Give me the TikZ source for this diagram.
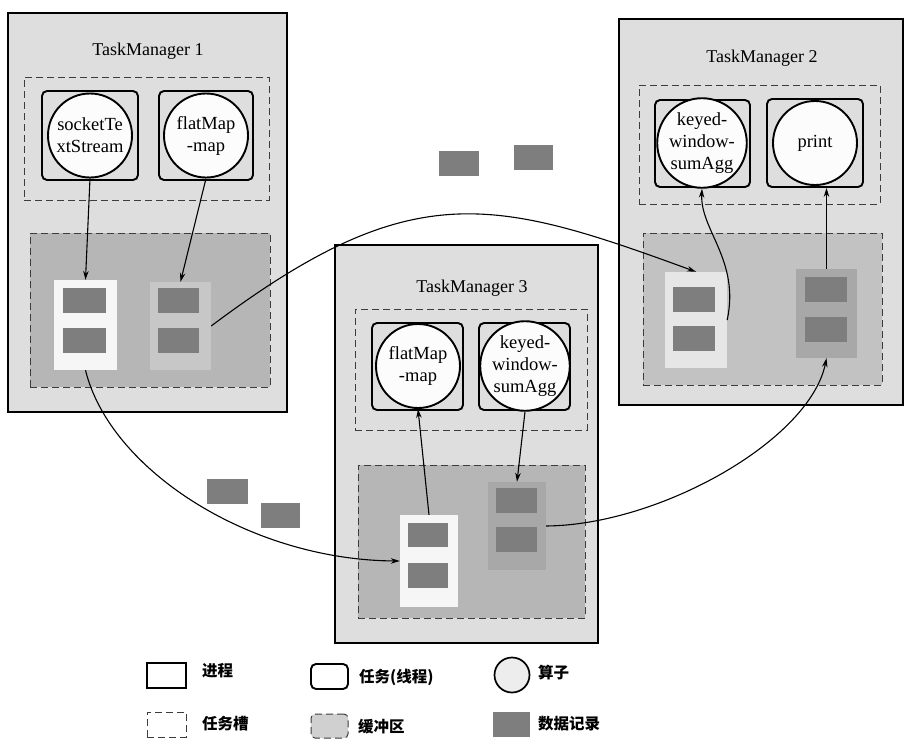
\documentclass[tikz,border=0pt]{standalone}
\usepackage{fontspec}
\setmainfont{Liberation Serif}
\newfontfamily\cjk{Noto Sans CJK SC}
\usetikzlibrary{arrows.meta,fit}

\definecolor{tmfill}{RGB}{222,222,222}
\definecolor{buffill}{RGB}{182,182,182}
\definecolor{subfill}{RGB}{168,168,168}
\definecolor{procfill}{RGB}{246,246,246}
\definecolor{recfill}{RGB}{126,126,126}
\definecolor{dashcol}{RGB}{60,60,60}
\definecolor{lgbuf}{RGB}{208,208,208}
\definecolor{opfill}{RGB}{252,252,252}

\tikzset{
  tmbox/.style={draw=black, line width=2pt, fill=tmfill, inner sep=0pt},
  slotbox/.style={draw=dashcol, dash pattern=on 7pt off 4pt, line width=1pt, inner sep=0pt},
  bufbox/.style={slotbox, fill=buffill},
  taskbox/.style={draw=black, line width=1.9pt, rounded corners=5pt, inner sep=0pt},
  opnode/.style={circle, draw=black, line width=1.9pt, fill=opfill, minimum size=84pt, inner sep=0pt, align=center, font=\fontsize{18.5}{22}\selectfont},
  procbox/.style={fill=procfill, inner sep=0pt},
  subbox/.style={fill=subfill, inner sep=0pt},
  rec/.style={fill=recfill, inner sep=0pt},
  tmtitle/.style={anchor=base, font=\fontsize{18}{22}\selectfont},
  conn/.style={line width=1.1pt, -{Stealth[length=9pt,width=5.5pt]}},
  lgtext/.style={anchor=west, inner sep=0pt, font=\cjk\bfseries\fontsize{15.5}{18}\selectfont},
}

\begin{document}
\begin{tikzpicture}[x=1pt, y=-1pt]
\useasboundingbox (0,0) rectangle (911,747);

% ---------- TaskManager 1 ----------
\node[tmbox, fit={(8,13)(287,412)}] (tm1) {};
\node[tmtitle] (tm1t) at (148,55) {TaskManager 1};
\node[slotbox, fit={(24,77)(269,200)}] (slot1) {};
\node[taskbox, fit={(42,91)(138,180)}] (task1a) {};
\node[taskbox, fit={(159,91)(253,180)}] (task1b) {};
\node[opnode] (c1a) at (90,135.5) {socketTe\\xtStream};
\node[opnode] (c1b) at (206,135.5) {flatMap\\-map};
\node[bufbox, fit={(30,233)(270,387)}] (buf1) {};
\node[procbox, fit={(54,280)(117,370)}] (proc1) {};
\node[rec, fit={(63,288)(106,313)}] (r1a) {};
\node[rec, fit={(63,328)(106,353)}] (r1b) {};
\node[subbox, fill=subfill!60!procfill, fit={(150,282)(211,370)}] (sub1) {};
\node[rec, fit={(158,288)(199,313)}] (r1c) {};
\node[rec, fit={(158,328)(199,353)}] (r1d) {};

% ---------- TaskManager 2 ----------
\node[tmbox, fit={(619,19)(903,405)}] (tm2) {};
\node[tmtitle] (tm2t) at (762,62) {TaskManager 2};
\node[slotbox, fit={(639,85)(880,204)}] (slot2) {};
\node[taskbox, fit={(655,100)(750,187)}] (task2a) {};
\node[taskbox, fit={(767,99)(863,187)}] (task2b) {};
\node[opnode] (c2a) at (702,143) {keyed-\\window-\\sumAgg};
\node[opnode] (c2b) at (815,143) {print};
\node[bufbox, fill=buffill!70!tmfill, fit={(643,233)(882,385)}] (buf2) {};
\node[procbox, fill=procfill!75!buffill, fit={(665,272)(727,368)}] (proc2) {};
\node[rec, fit={(673,287)(715,312)}] (r2a) {};
\node[rec, fit={(673,326)(715,351)}] (r2b) {};
\node[subbox, fit={(796,269)(857,358)}] (sub2) {};
\node[rec, fit={(805,277)(847,302)}] (r2c) {};
\node[rec, fit={(805,317)(847,342)}] (r2d) {};

% ---------- TaskManager 3 ----------
\node[tmbox, fit={(335,245)(598,643)}] (tm3) {};
\node[tmtitle] (tm3t) at (472,292) {TaskManager 3};
\node[slotbox, fit={(355,309)(587,430)}] (slot3) {};
\node[taskbox, fit={(372,323)(463,410)}] (task3a) {};
\node[taskbox, fit={(479,323)(570,410)}] (task3b) {};
\node[opnode] (c3a) at (418,366) {flatMap\\-map};
\node[opnode] (c3b) at (525,366) {keyed-\\window-\\sumAgg};
\node[bufbox, fit={(358,465)(585,618)}] (buf3) {};
\node[procbox, fit={(400,515)(458,607)}] (proc3) {};
\node[rec, fit={(408,523)(448,547)}] (r3a) {};
\node[rec, fit={(408,563)(448,588)}] (r3b) {};
\node[subbox, fit={(488,482)(546,570)}] (sub3) {};
\node[rec, fit={(496,488)(537,513)}] (r3c) {};
\node[rec, fit={(496,527)(537,552)}] (r3d) {};

% ---------- records in transit ----------
\node[rec, fit={(207,479)(248,504)}] (f1) {};
\node[rec, fit={(261,503)(300,528)}] (f2) {};
\node[rec, fit={(439,151)(479,176)}] (f3) {};
\node[rec, fit={(514,145)(553,170)}] (f4) {};

% ---------- connectors ----------
\draw[conn] (c1a.south) -- (proc1.north);
\draw[conn] (c1b.south) -- (sub1.north);
\draw[conn] (sub1.east) .. controls (411,176) and (492,197) .. (proc2.north);
\draw[conn] (proc2.east) .. controls (740,260) and (700,230) .. (c2a.south);
\draw[conn] (sub2.north) -- (sub2.north |- task2b.south);
\draw[conn] (proc1.south) .. controls (110,470) and (250,560) .. (proc3.west);
\draw[conn] (proc3.north) -- (c3a.south);
\draw[conn] (c3b.south) -- (sub3.north);
\draw[conn] (sub3.east) .. controls (660,525) and (810,440) .. (sub2.south);

% ---------- legend ----------
\node[draw=black, line width=2pt, fill=white, inner sep=0pt, fit={(147,663)(186,688)}] (lgproc) {};
\node[lgtext] (lgproct) at (202,671) {进程};
\node[taskbox, fill=white, fit={(311,664)(348,689)}] (lgtask) {};
\node[lgtext] (lgtaskt) at (359,677) {任务(线程)};
\node[circle, draw=black, line width=1.7pt, fill=opfill!94!black, minimum size=35pt, inner sep=0pt] (lgop) at (512,675) {};
\node[lgtext] (lgopt) at (538,673) {算子};
\node[slotbox, fit={(147,712)(186,737)}] (lgslot) {};
\node[lgtext] (lgslott) at (202,723.5) {任务槽};
\node[slotbox, rounded corners=4pt, fill=lgbuf, fit={(311,714)(348,738)}] (lgbuf) {};
\node[lgtext] (lgbuft) at (358,726.5) {缓冲区};
\node[rec, fit={(493,712)(530,737)}] (lgrec) {};
\node[lgtext] (lgrect) at (538,723.5) {数据记录};
\end{tikzpicture}
\end{document}
